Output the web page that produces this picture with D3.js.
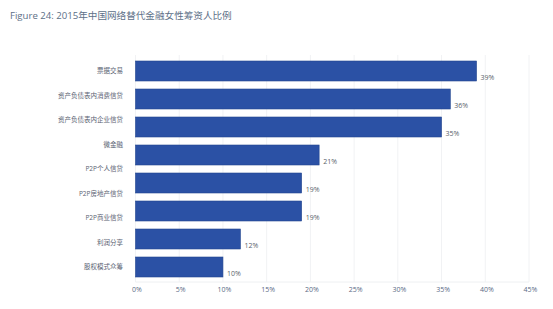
<!DOCTYPE html>
<html>
<head>
<meta charset="utf-8">
<script src="https://cdn.jsdelivr.net/npm/d3@7"></script>
<style>
  body { margin: 0; background: #fff; }
  svg { display: block; font-family: "Open Sans", "Noto Sans CJK SC", sans-serif; }
</style>
</head>
<body>
<svg id="chart" width="553" height="309"></svg>
<script>
const title = 'Figure 24: 2015年中国网络替代金融女性筹资人比例';

// labels as they appear on the left (9 of them)
const categories = ['票据交易', '资产负债表内消费信贷', '资产负债表内企业信贷', '微金融',
  'P2P个人信贷', 'P2P房地产信贷', 'P2P商业信贷', '利润分享', '股权模式众筹'];

// bars as drawn (8 of them)
const values = [39, 36, 35, 21, 19, 19, 12, 10];

const ticks = [0, 5, 10, 15, 20, 25, 30, 35, 40, 45];

const svg = d3.select('#chart');

const x = d3.scaleLinear()
  .domain([0, 45])
  .range([135.5, 529]);

const yBar = d3.scaleBand()
  .domain(d3.range(values.length))
  .range([57, 281])
  .paddingInner(0.286)
  .paddingOuter(0.143);

const yLabel = d3.scalePoint()
  .domain(categories)
  .range([71, 267]);

svg.append('text')
  .attr('x', 10)
  .attr('y', 18.5)
  .attr('fill', '#5d7088')
  .style('font-size', '9.6px')
  .text(title);

// faint grid
svg.append('g')
  .selectAll('line')
  .data(ticks)
  .join('line')
  .attr('x1', (d) => x(d))
  .attr('x2', (d) => x(d))
  .attr('y1', 55)
  .attr('y2', 282)
  .attr('stroke', '#f1f2f4')
  .attr('stroke-width', 1);

svg.append('line')
  .attr('x1', x(0))
  .attr('x2', x(45))
  .attr('y1', 282)
  .attr('y2', 282)
  .attr('stroke', '#eef0f2');

// bars
svg.append('g')
  .selectAll('rect')
  .data(values)
  .join('rect')
  .attr('x', x(0))
  .attr('y', (d, i) => yBar(i))
  .attr('width', (d) => x(d) - x(0))
  .attr('height', yBar.bandwidth())
  .attr('fill', '#2b51a5')
  .attr('stroke', '#23468f')
  .attr('stroke-width', 0.6);

// value labels
svg.append('g')
  .selectAll('text')
  .data(values)
  .join('text')
  .attr('x', (d) => x(d) + 4)
  .attr('y', (d, i) => yBar(i) + yBar.bandwidth() - 3)
  .attr('dy', '0.35em')
  .attr('fill', '#5a5f6a')
  .style('font-size', '7px')
  .text((d) => `${d}%`);

// category labels
svg.append('g')
  .selectAll('text')
  .data(categories)
  .join('text')
  .attr('x', 123)
  .attr('y', (d) => yLabel(d))
  .attr('dy', '0.35em')
  .attr('text-anchor', 'end')
  .attr('fill', '#5a6272')
  .style('font-size', '6.5px')
  .text((d) => d);

// x axis labels
const axis = d3.axisBottom(x)
  .tickValues(ticks)
  .tickFormat((d) => `${d}%`)
  .tickSize(0)
  .tickPadding(0);

svg.append('g')
  .attr('transform', 'translate(1,287)')
  .call(axis)
  .call((g) => g.select('.domain').remove())
  .call((g) => g.selectAll('text')
    .attr('fill', '#5a6a85')
    .style('font-size', '7px')
    .style('font-family', '"Open Sans", sans-serif'));
</script>
</body>
</html>
